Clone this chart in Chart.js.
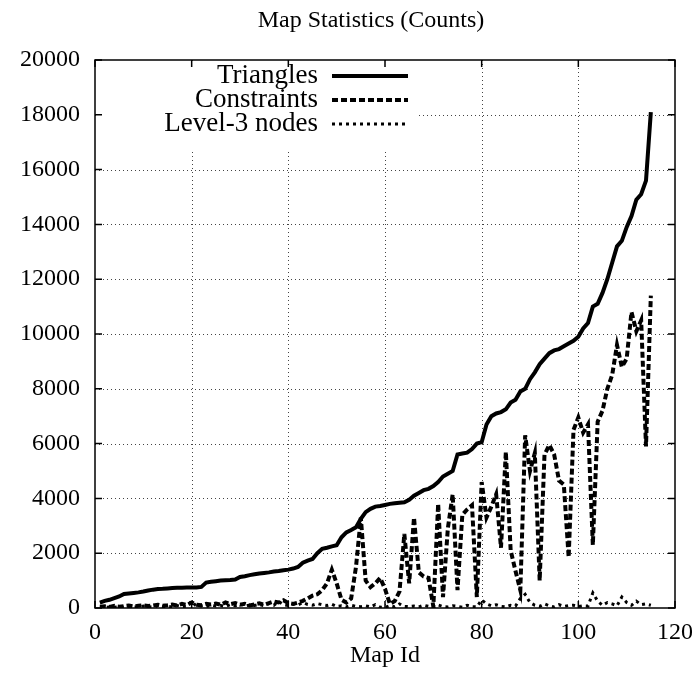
<!DOCTYPE html>
<html>
<head>
<meta charset="utf-8">
<script src="https://cdn.jsdelivr.net/npm/chart.js@4.4.0/dist/chart.umd.min.js"></script>
<style>
  body { margin: 0; background: #fff; }
  canvas { display: block; }
</style>
</head>
<body>
<canvas id="chart" width="692" height="690"></canvas>
<script>
const FONT = "'Liberation Serif', 'DejaVu Serif', serif";

const chartTitle = "Map Statistics (Counts)";
const xTitle = "Map Id";

const mapIds = [];
for (let i = 1; i <= 115; i++) mapIds.push(i);

const triangles = [
  200, 260, 300, 360, 420, 510, 530, 550, 570, 600,
  640, 670, 690, 700, 715, 730, 735, 740, 745, 748,
  750, 770, 930, 960, 980, 1000, 1010, 1020, 1040, 1130,
  1160, 1200, 1230, 1260, 1280, 1300, 1330, 1350, 1380, 1400,
  1440, 1500, 1650, 1730, 1790, 2000, 2160, 2200, 2250, 2290,
  2580, 2760, 2850, 2950, 3250, 3500, 3620, 3700, 3720, 3760,
  3800, 3820, 3840, 3860, 3950, 4100, 4200, 4300, 4350, 4450,
  4600, 4800, 4900, 5000, 5600, 5640, 5670, 5800, 6000, 6050,
  6700, 7000, 7100, 7150, 7250, 7500, 7600, 7900, 8000, 8350,
  8600, 8900, 9100, 9300, 9400, 9450, 9550, 9650, 9750, 9900,
  10200, 10400, 11000, 11100, 11500, 12000, 12600, 13200, 13400, 13900,
  14300, 14900, 15100, 15600, 18100
];

const constraints = [
  50, 60, 40, 80, 50, 70, 90, 60, 80, 100,
  70, 90, 120, 80, 100, 130, 90, 150, 110, 200,
  120, 100, 150, 130, 160, 120, 200, 140, 180, 120,
  150, 90, 130, 170, 120, 180, 240, 200, 280, 180,
  150, 200, 260, 350, 450, 500, 650, 900, 1400, 900,
  300, 200, 350, 1500, 3300, 1000, 760, 900, 1100, 700,
  150, 250, 600, 2700, 900, 3300, 1300, 1150, 1100, 50,
  3800, 400, 2900, 4150, 650, 3400, 3600, 3750, 400, 4600,
  3300, 3700, 4150, 2200, 5700, 2100, 1350, 650, 6300, 5000,
  5650, 1000, 5600, 5950, 5600, 4650, 4500, 1850, 6500, 6950,
  6400, 6700, 2300, 6800, 7200, 8000, 8500, 9600, 8800, 9100,
  10800, 10100, 10500, 5900, 11400
];

const level3 = [
  30, 20, 40, 25, 50, 30, 60, 35, 40, 70,
  45, 30, 80, 50, 60, 40, 90, 55, 70, 250,
  60, 80, 50, 100, 70, 90, 60, 120, 80, 150,
  70, 110, 90, 130, 80, 160, 100, 240, 120, 90,
  150, 110, 200, 130, 100, 160, 120, 90, 140, 60,
  80, 40, 100, 60, 50, 80, 40, 120, 30, 20,
  90, 40, 150, 60, 50, 70, 40, 100, 60, 30,
  110, 50, 40, 80, 60, 30, 100, 50, 40, 300,
  150, 80, 120, 60, 40, 100, 70, 350, 500, 200,
  100, 60, 150, 80, 40, 120, 60, 90, 100, 50,
  80, 70, 550, 250, 100, 200, 150, 80, 400, 200,
  100, 250, 120, 150, 100
];

const seriesNames = ["Triangles", "Constraints", "Level-3 nodes"];
const xTicks = [0, 20, 40, 60, 80, 100, 120];
const yTicks = [0, 2000, 4000, 6000, 8000, 10000, 12000, 14000, 16000, 18000, 20000];

function toPoints(values) {
  return values.map((v, i) => ({ x: mapIds[i], y: v }));
}

// gnuplot style frame: dotted grid, inward ticks on all sides, key in the top left
const gnuplotFrame = {
  id: "gnuplotFrame",
  beforeDatasetsDraw(chart) {
    const { ctx, chartArea: a, scales } = chart;
    ctx.save();
    ctx.strokeStyle = "#444";
    ctx.lineWidth = 1;
    ctx.setLineDash([1, 3]);
    xTicks.slice(1, -1).forEach(v => {
      const px = Math.round(scales.x.getPixelForValue(v)) + 0.5;
      ctx.beginPath();
      ctx.moveTo(px, a.top);
      ctx.lineTo(px, a.bottom);
      ctx.stroke();
    });
    yTicks.slice(1, -1).forEach(v => {
      const py = Math.round(scales.y.getPixelForValue(v)) + 0.5;
      ctx.beginPath();
      ctx.moveTo(a.left, py);
      ctx.lineTo(a.right, py);
      ctx.stroke();
    });
    // key box hides the grid behind it
    ctx.fillStyle = "#fff";
    ctx.fillRect(a.left + 1, a.top + 1, 320, 88);
    ctx.restore();
  },
  afterDatasetsDraw(chart) {
    const { ctx, chartArea: a, scales } = chart;
    const ds = chart.data.datasets;
    ctx.save();
    ctx.strokeStyle = "#000";
    ctx.lineWidth = 1.5;
    ctx.setLineDash([]);
    ctx.strokeRect(a.left, a.top, a.right - a.left, a.bottom - a.top);
    const tl = 7;
    ctx.beginPath();
    xTicks.forEach(v => {
      const px = scales.x.getPixelForValue(v);
      ctx.moveTo(px, a.bottom); ctx.lineTo(px, a.bottom - tl);
      ctx.moveTo(px, a.top); ctx.lineTo(px, a.top + tl);
    });
    yTicks.forEach(v => {
      const py = scales.y.getPixelForValue(v);
      ctx.moveTo(a.left, py); ctx.lineTo(a.left + tl, py);
      ctx.moveTo(a.right, py); ctx.lineTo(a.right - tl, py);
    });
    ctx.stroke();

    ctx.fillStyle = "#000";
    ctx.textBaseline = "middle";
    ctx.textAlign = "center";
    ctx.font = "24px " + FONT;
    ctx.fillText(chartTitle, 371, 21);

    // key
    ctx.font = "27px " + FONT;
    ctx.textAlign = "right";
    const textRight = 318, sx0 = 332, sx1 = 408;
    ds.forEach((d, i) => {
      const y = 76 + i * 24;
      ctx.fillText(d.label, textRight, y);
      ctx.strokeStyle = d.borderColor;
      ctx.lineWidth = d.borderWidth;
      ctx.setLineDash(d.borderDash || []);
      ctx.beginPath();
      ctx.moveTo(sx0, y);
      ctx.lineTo(sx1, y);
      ctx.stroke();
    });
    ctx.restore();
  }
};

new Chart(document.getElementById("chart"), {
  type: "line",
  data: {
    datasets: [
      {
        label: seriesNames[0],
        data: toPoints(triangles),
        borderColor: "#000",
        borderWidth: 4,
        pointRadius: 0,
        tension: 0
      },
      {
        label: seriesNames[1],
        data: toPoints(constraints),
        borderColor: "#000",
        borderWidth: 4,
        borderDash: [6, 3],
        pointRadius: 0,
        tension: 0
      },
      {
        label: seriesNames[2],
        data: toPoints(level3),
        borderColor: "#000",
        borderWidth: 3,
        borderDash: [3, 4],
        pointRadius: 0,
        tension: 0
      }
    ]
  },
  options: {
    responsive: false,
    animation: false,
    devicePixelRatio: 1,
    layout: { padding: { left: 0, right: 17, top: 60, bottom: 0 } },
    plugins: {
      legend: { display: false },
      tooltip: { enabled: false },
      title: { display: false }
    },
    scales: {
      x: {
        type: "linear",
        min: 0,
        max: 120,
        afterFit: s => { s.height = 82; s.paddingLeft = 0; s.paddingRight = 0; },
        afterBuildTicks: s => { s.ticks = xTicks.map(v => ({ value: v })); },
        grid: { display: false, drawTicks: false },
        border: { display: false },
        ticks: {
          color: "#000",
          font: { family: FONT, size: 24 },
          padding: 10,
          maxRotation: 0,
          callback: v => String(v)
        },
        title: {
          display: true,
          text: xTitle,
          color: "#000",
          font: { family: FONT, size: 24 },
          padding: { top: 0, bottom: 20 }
        }
      },
      y: {
        min: 0,
        max: 20000,
        afterFit: s => { s.width = 95; s.paddingTop = 0; s.paddingBottom = 0; },
        afterBuildTicks: s => { s.ticks = yTicks.map(v => ({ value: v })); },
        grid: { display: false, drawTicks: false },
        border: { display: false },
        ticks: {
          color: "#000",
          font: { family: FONT, size: 24 },
          padding: 15,
          callback: v => String(v)
        }
      }
    }
  },
  plugins: [gnuplotFrame]
});
</script>
</body>
</html>
